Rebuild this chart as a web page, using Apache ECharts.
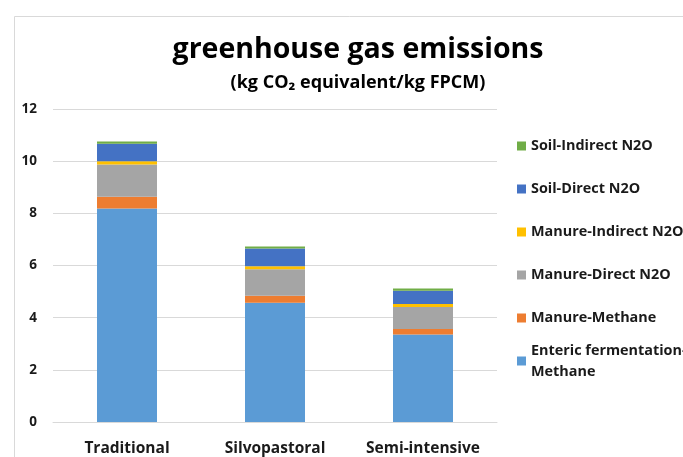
<!DOCTYPE html>
<html>
<head>
<meta charset="utf-8">
<script src="https://cdn.jsdelivr.net/npm/echarts@6/dist/echarts.min.js"></script>
<style>
  html, body { margin: 0; padding: 0; background: #fff; }
  #chart { width: 683px; height: 457px; }
</style>
</head>
<body>
<div id="chart"></div>
<script>
const categories = ['Traditional', 'Silvopastoral', 'Semi-intensive'];

// bottom to top of each stack
const entericMethane = [8.19, 4.57, 3.35];
const manureMethane = [0.45, 0.27, 0.22];
const manureDirectN2O = [1.23, 1.02, 0.84];
const manureIndirectN2O = [0.13, 0.11, 0.11];
const soilDirectN2O = [0.67, 0.68, 0.51];
const soilIndirectN2O = [0.08, 0.08, 0.09];

const yTicks = { min: 0, max: 12, interval: 2 };

const font = 'Open Sans';
const textColor = '#1a1a1a';

const seriesDefs = [
  { name: 'Enteric fermentation-Methane', data: entericMethane, color: '#5B9BD5' },
  { name: 'Manure-Methane', data: manureMethane, color: '#ED7D31' },
  { name: 'Manure-Direct N2O', data: manureDirectN2O, color: '#A5A5A5' },
  { name: 'Manure-Indirect N2O', data: manureIndirectN2O, color: '#FFC000' },
  { name: 'Soil-Direct N2O', data: soilDirectN2O, color: '#4472C4' },
  { name: 'Soil-Indirect N2O', data: soilIndirectN2O, color: '#70AD47' }
];

const chart = echarts.init(document.getElementById('chart'));

const legendText = {
  fontFamily: font,
  fontWeight: 'bold',
  fontSize: 14.4,
  color: textColor,
  lineHeight: 21
};

chart.setOption({
  animation: false,
  color: seriesDefs.map(s => s.color),
  title: {
    text: 'greenhouse gas emissions',
    subtext: '(kg CO₂ equivalent/kg FPCM)',
    left: 353,
    textAlign: 'center',
    top: 30,
    itemGap: 10,
    textStyle: { fontFamily: font, fontWeight: 'bold', fontSize: 28.5, color: '#000' },
    subtextStyle: { fontFamily: font, fontWeight: 'bold', fontSize: 18, color: '#000' }
  },
  graphic: [{
    type: 'rect',
    left: 12,
    top: 14,
    shape: { width: 700, height: 460 },
    style: { fill: 'none', stroke: '#d9d9d9', lineWidth: 1 },
    silent: true
  }],
  legend: [{
    orient: 'vertical',
    left: 517,
    top: 135.5,
    padding: 0,
    itemWidth: 9,
    itemHeight: 9,
    itemGap: 22,
    icon: 'rect',
    data: seriesDefs.slice(1).map(s => s.name).reverse(),
    textStyle: legendText
  }, {
    orient: 'vertical',
    left: 517,
    top: 329.5,
    padding: 0,
    itemWidth: 9,
    itemHeight: 9,
    icon: 'rect',
    data: [seriesDefs[0].name],
    formatter: name => name.replace('-', '-\n'),
    textStyle: Object.assign({}, legendText, { padding: [21, 0, 0, 0] })
  }],
  grid: { left: 53, right: 186, top: 109, bottom: 34 },
  xAxis: {
    type: 'category',
    data: categories,
    axisTick: { show: false },
    axisLine: { lineStyle: { color: '#d9d9d9' } },
    axisLabel: { fontFamily: font, fontWeight: 'bold', fontSize: 15.5, color: textColor, margin: 19, interval: 0 }
  },
  yAxis: {
    type: 'value',
    min: yTicks.min,
    max: yTicks.max,
    interval: yTicks.interval,
    axisLine: { show: false },
    axisTick: { show: false },
    splitLine: { lineStyle: { color: '#d9d9d9' } },
    axisLabel: { fontFamily: font, fontWeight: 'bold', fontSize: 13.5, color: textColor, margin: 16 }
  },
  series: seriesDefs.map(s => ({
    name: s.name,
    type: 'bar',
    stack: 'total',
    barWidth: 60,
    data: s.data,
    itemStyle: { color: s.color }
  }))
});
</script>
</body>
</html>
